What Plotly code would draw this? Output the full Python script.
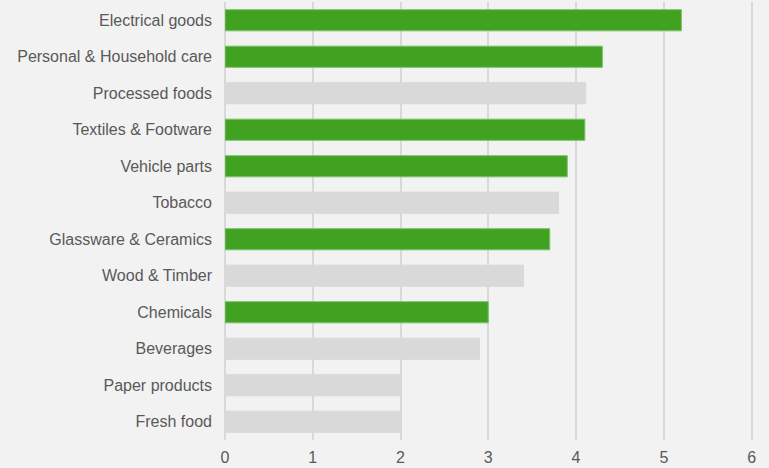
import plotly.graph_objects as go

categories = [
    "Electrical goods", "Personal & Household care", "Processed foods",
    "Textiles & Footware", "Vehicle parts", "Tobacco", "Glassware & Ceramics",
    "Wood & Timber", "Chemicals", "Beverages", "Paper products", "Fresh food",
]
values = [5.2, 4.3, 4.11, 4.1, 3.9, 3.8, 3.7, 3.4, 3.0, 2.9, 2.0, 2.0]
highlight = [True, True, False, True, True, False, True, False, True, False, False, False]
x_ticks = [0, 1, 2, 3, 4, 5, 6]

GREEN = "#41a222"
GREY = "#d9d9d9"
colors = [GREEN if h else GREY for h in highlight]
line_colors = ["#7cc26a" if h else GREY for h in highlight]

fig = go.Figure(go.Bar(
    x=values, y=categories, orientation="h",
    marker=dict(color=colors, line=dict(color=line_colors, width=1)),
    hoverinfo="x+y",
))

fig.update_layout(
    width=769, height=468,
    margin=dict(l=225, r=13, t=2, b=28),
    paper_bgcolor="#f2f2f2", plot_bgcolor="rgba(0,0,0,0)",
    bargap=0.42,
    showlegend=False,
    font=dict(family="Liberation Sans, Arial, sans-serif", size=16, color="#595959"),
)
fig.update_xaxes(
    range=[0, 6.05], tickvals=x_ticks, showgrid=True, gridcolor="#d9d9d9", gridwidth=1.5,
    zeroline=True, zerolinecolor="#d9d9d9", zerolinewidth=1.5,
    showline=False, ticklabelstandoff=6, fixedrange=True,
)
fig.update_yaxes(
    autorange="reversed", showgrid=False, zeroline=False, showline=False,
    ticklabelstandoff=12, fixedrange=True,
)

fig.write_html("out.html")
